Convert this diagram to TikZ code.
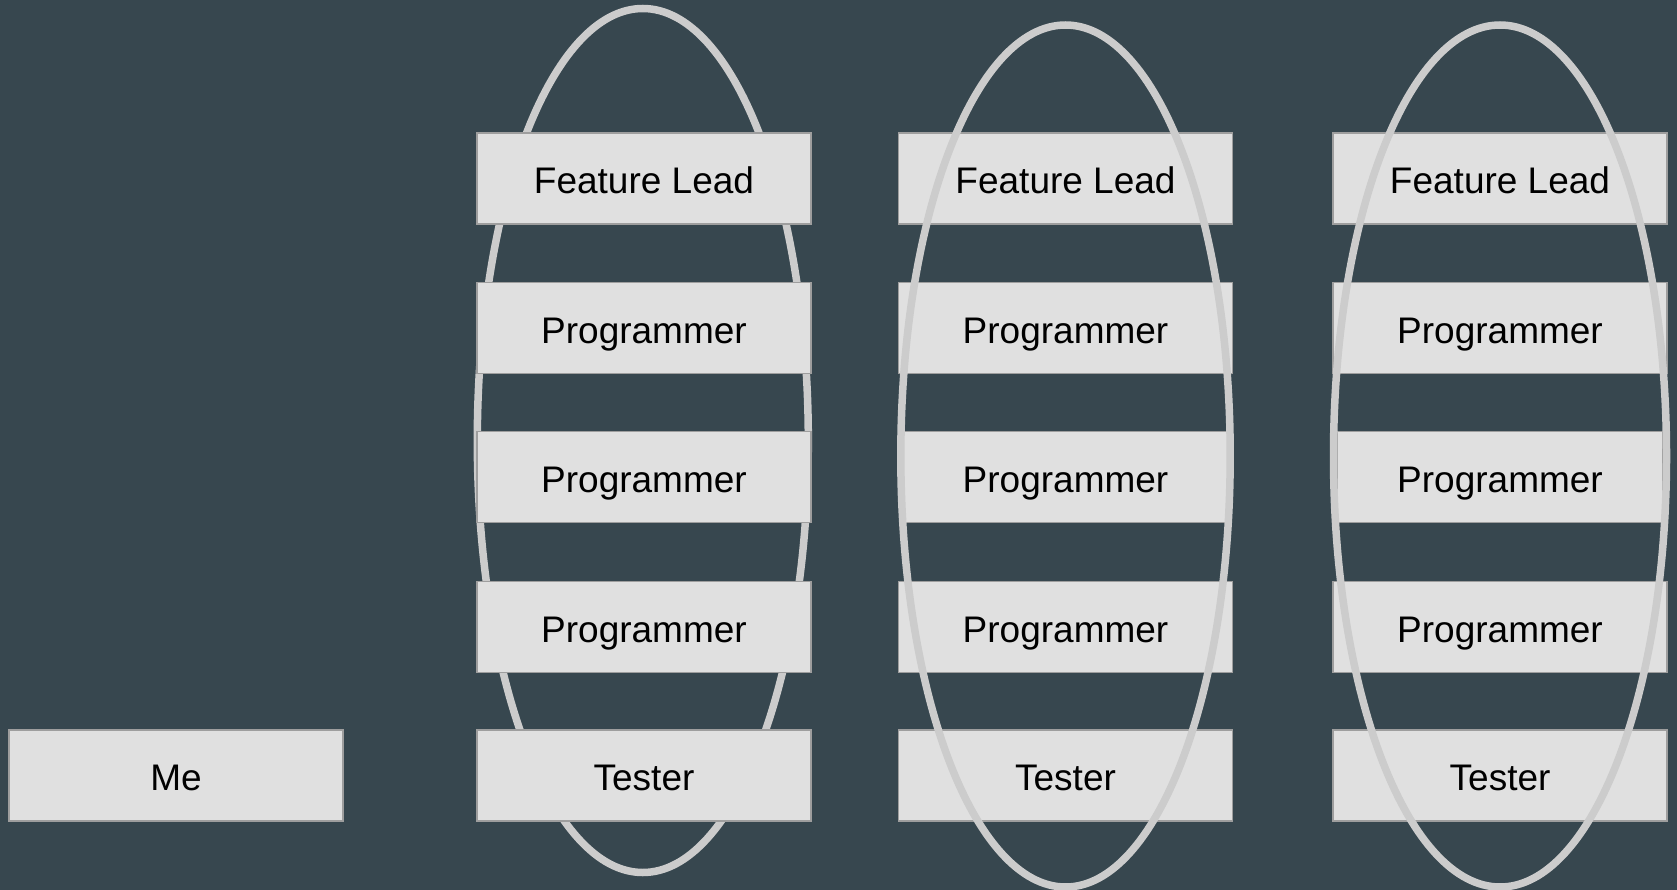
\documentclass[tikz,border=0pt]{standalone}
\usepackage{fontspec}
\setmainfont{Liberation Sans}
\definecolor{bg}{HTML}{37474F}
\definecolor{boxfill}{HTML}{E0E0E0}
\definecolor{boxline}{HTML}{9E9E9E}
\definecolor{ring}{HTML}{CCCCCC}
\tikzset{
  rolebox/.style={draw=boxline, line width=1.5pt, fill=boxfill, minimum width=334pt, minimum height=91pt, inner sep=0pt, text height=30pt, text depth=0pt, font=\fontsize{37}{44}\selectfont, text=black},
  narrowbox/.style={rolebox, minimum width=326pt},
  ringline/.style={draw=ring, line width=7.5pt}
}
\begin{document}
\begin{tikzpicture}[x=1pt,y=-1pt]
\fill[bg] (0,0) rectangle (1677,890);
\useasboundingbox (0,0) rectangle (1677,890);
% column 1: ring behind boxes
\coordinate (c1) at (642.8,440.5);
\draw[ringline] (c1) ellipse [x radius=165.5, y radius=432];
\node[rolebox] (me) at (176,775.5) {Me};
\node[rolebox] (a1) at (644,178.5) {Feature Lead};
\node[rolebox] (a2) at (644,328) {Programmer};
\node[rolebox] (a3) at (644,477) {Programmer};
\node[rolebox] (a4) at (644,627) {Programmer};
\node[rolebox] (a5) at (644,775.5) {Tester};
% column 2
\node[rolebox] (b1) at (1065.5,178.5) {Feature Lead};
\node[rolebox] (b2) at (1065.5,328) {Programmer};
\node[narrowbox] (b3) at (1065.5,477) {Programmer};
\node[rolebox] (b4) at (1065.5,627) {Programmer};
\node[rolebox] (b5) at (1065.5,775.5) {Tester};
\coordinate (c2) at (1065.5,456);
\draw[ringline] (c2) ellipse [x radius=164.7, y radius=431];
% column 3
\node[rolebox] (d1) at (1500,178.5) {Feature Lead};
\node[rolebox] (d2) at (1500,328) {Programmer};
\node[narrowbox] (d3) at (1500,477) {Programmer};
\node[rolebox] (d4) at (1500,627) {Programmer};
\node[rolebox] (d5) at (1500,775.5) {Tester};
\coordinate (c3) at (1500,456);
\draw[ringline] (c3) ellipse [x radius=166.5, y radius=431];
\end{tikzpicture}
\end{document}
